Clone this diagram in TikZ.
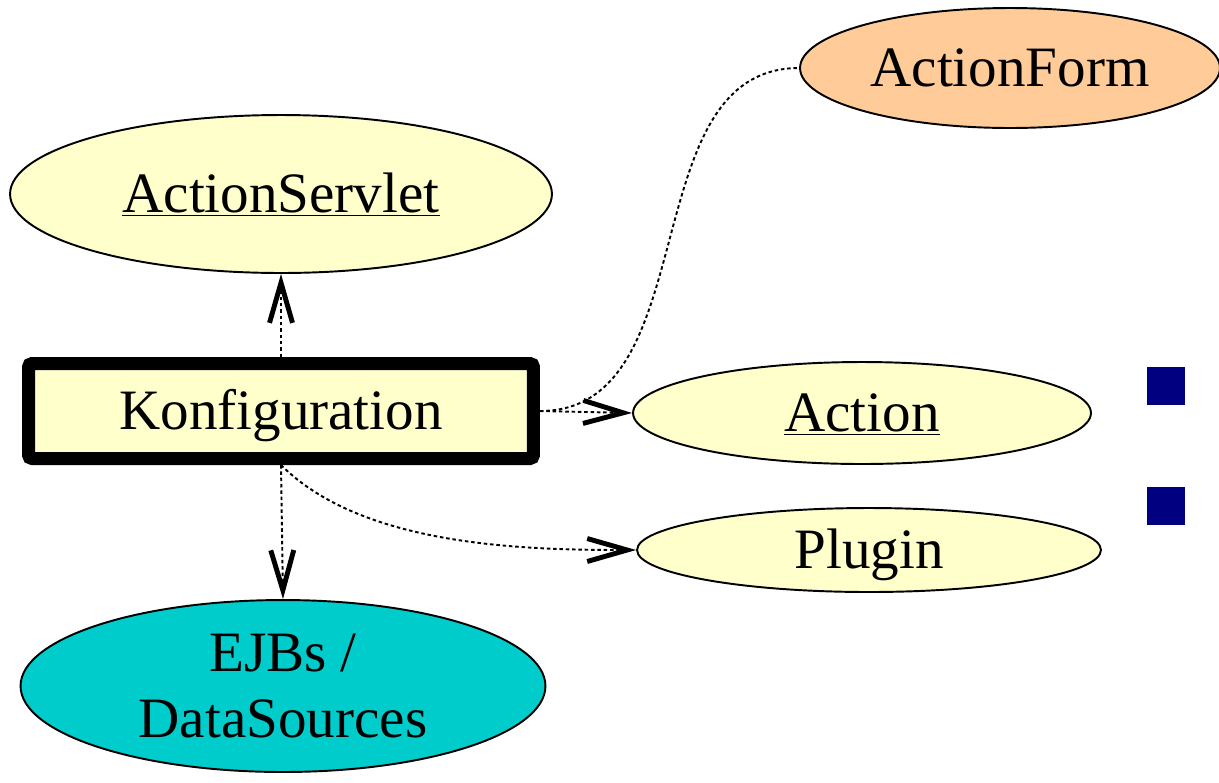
\documentclass[tikz,border=0pt]{standalone}
\usepackage{fontspec}
\setmainfont{Liberation Serif}
\usetikzlibrary{shapes.geometric,arrows.meta}

\definecolor{paleyellow}{HTML}{FFFFCC}
\definecolor{peach}{HTML}{FFCC99}
\definecolor{ejbcyan}{HTML}{00CCCC}
\definecolor{bulletnavy}{HTML}{000080}

\begin{document}
\begin{tikzpicture}[x=0.02cm,y=-0.02cm,font=\fontsize{32.5}{38}\selectfont,
        bubble/.style={ellipse,draw,line width=1.1pt,inner sep=-2cm},
        oneline/.style={text height=21pt,text depth=0pt},
        dots/.style={line width=1.1pt,dash pattern=on 2pt off 1.6pt},
        vhead/.style={-{Straight Barb[length=0.8cm,width=0.46cm,line width=2.8pt]}}]
            \useasboundingbox[fill=white] (0,0) rectangle (1219,782);

            \node [bubble,oneline,fill=paleyellow,minimum width=10.84cm,minimum height=3.16cm] (servlet) at (281,194) {\underline{ActionServlet}};
            \node [bubble,oneline,fill=peach,minimum width=8.4cm,minimum height=2.4cm] (form) at (1010,68) {ActionForm};
            \node [rectangle,draw,line width=7.4pt,rounded corners=2pt,fill=paleyellow,oneline,inner sep=0pt,minimum width=10.1cm,minimum height=1.9cm] (konfig) at (281,411) {Konfiguration};
            \node [bubble,oneline,fill=paleyellow,minimum width=9.16cm,minimum height=2.04cm] (action) at (862,413) {\underline{Action}};
            \node [bubble,oneline,fill=paleyellow,minimum width=9.28cm,minimum height=1.68cm] (plugin) at (869,550) {Plugin};
            \node [bubble,align=center,fill=ejbcyan,minimum width=10.5cm,minimum height=3.44cm] (ejb) at (283,686) {EJBs /\\DataSources};

            \node [rectangle,fill=bulletnavy,inner sep=0pt,minimum size=0.76cm] (bulletA) at (1166,386) {};
            \node [rectangle,fill=bulletnavy,inner sep=0pt,minimum size=0.76cm] (bulletB) at (1166,506) {};

            \draw[dots,vhead] (konfig.north) -- (servlet.south);
            \draw[dots,vhead] (konfig.south) -- (ejb.north);
            \draw[dots,vhead] (konfig.east) -- (action.west);
            \draw[dots] (konfig.east) to[out=0,in=180] (form.west);
            \draw[dots,vhead] (konfig.south) to[out=-45,in=180,looseness=0.8] (plugin.west);

        \end{tikzpicture}
\end{document}
